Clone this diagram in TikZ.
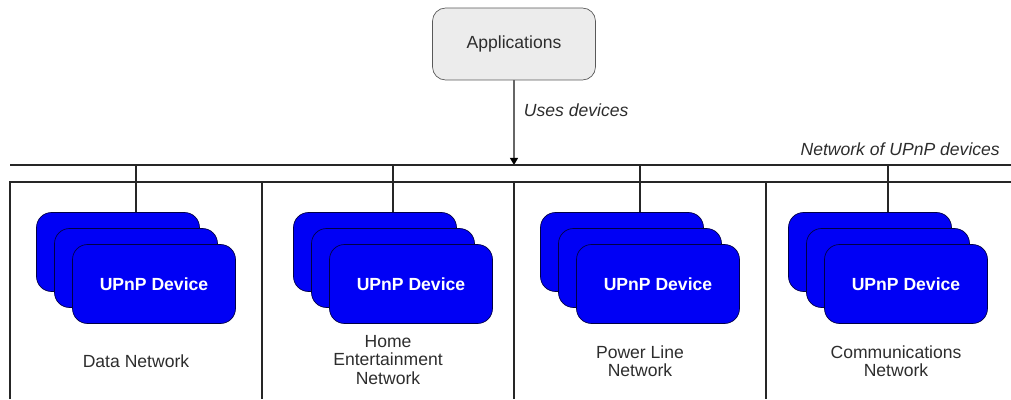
\documentclass[tikz,border=0pt]{standalone}
\usepackage{fontspec}
\setmainfont{Liberation Sans}
\usetikzlibrary{arrows.meta}
\definecolor{upnpblue}{RGB}{0,0,245}
\definecolor{upnpedge}{RGB}{0,0,70}
\definecolor{appfill}{RGB}{236,236,236}
\definecolor{labelgray}{RGB}{45,45,45}

\begin{document}
\begin{tikzpicture}[
    x=0.02cm, y=-0.02cm,
    app/.style={draw=black!65, fill=appfill, rounded corners=0.26cm, minimum width=3.26cm, minimum height=1.44cm, font=\fontsize{10}{12}\selectfont, text=labelgray},
    device/.style={draw=upnpedge, fill=upnpblue, rounded corners=0.3cm, minimum width=3.26cm, minimum height=1.58cm, font=\bfseries\fontsize{10}{12}\selectfont, text=white},
    netlabel/.style={align=center, text=labelgray, font=\fontsize{10}{10.3}\selectfont},
    tag/.style={text=labelgray, font=\itshape\fontsize{10}{12}\selectfont},
    line/.style={draw=black!85, line width=0.7pt},
    arrow/.style={draw=black!60, line width=0.7pt, -{Triangle[length=4pt, width=4.5pt, color=black]}}
]
\useasboundingbox (0,0) rectangle (1011,399);

% Aplicaciones
\node[app] (apps) at (514,44) {Applications};
\coordinate (drop) at (514,165);
\draw[arrow] (apps) -- (drop) node[tag, pos=0.35, anchor=west, xshift=2pt] (uses) {Uses devices};

% Bus de red
\coordinate (busL) at (10,165);
\coordinate (busR) at (1011,165);
\draw[line, line width=1.1pt] (busL) -- (busR);
\node[tag, anchor=east] (netname) at (1006,149) {Network of UPnP devices};

% Paneles
\draw[line] (10,399) -- (10,182) -- (1011,182);
\draw[line] (262,182) -- (262,399);
\draw[line] (514,182) -- (514,399);
\draw[line] (766,182) -- (766,399);

% Dispositivos
\foreach \x/\n in {136/d1, 393/d2, 640/d3, 888/d4} {
    \node[device] (\n-back) at (\x-18,252) {};
    \node[device] (\n-mid) at (\x,268) {};
    \node[device] (\n) at (\x+18,284) {UPnP Device};
    \coordinate (\n-tap) at (\x,165);
    \draw[line] (\n-tap) -- (\n-tap |- \n-back.north);
}

% Etiquetas
\node[netlabel] (lbl1) at (136,361) {Data Network};
\node[netlabel] (lbl2) at (388,360) {Home\\Entertainment\\Network};
\node[netlabel] (lbl3) at (640,361) {Power Line\\Network};
\node[netlabel] (lbl4) at (896,361) {Communications\\Network};

\end{tikzpicture}
\end{document}
